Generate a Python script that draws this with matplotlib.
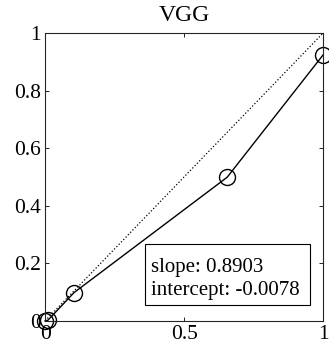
import matplotlib
matplotlib.use("Agg")
import matplotlib.pyplot as plt
from matplotlib.patches import Rectangle
import numpy as np

plt.rcParams['font.family'] = ['Liberation Serif', 'DejaVu Serif']

titolo = "VGG"
x_punti = [0.0, 0.01, 0.104, 0.655, 1.0]
y_punti = [0.0, 0.002, 0.098, 0.499, 0.924]
pendenza = 0.8903
intercetta = -0.0078
x_ticks = [0, 0.5, 1]
y_ticks = [0, 0.2, 0.4, 0.6, 0.8, 1]

fig = plt.figure(figsize=(3.29, 3.48), dpi=100)
ax = fig.add_axes([0.137, 0.078, 0.845, 0.827])

ax.plot([0, 1], [0, 1], linestyle=':', color='black', linewidth=0.9)
ax.plot(x_punti, y_punti, '-o', color='black', markerfacecolor='none',
        markersize=11.5, linewidth=1.0, markeredgewidth=1.0, clip_on=False)

ax.set_xlim(0, 1)
ax.set_ylim(0, 1)
ax.set_xticks(x_ticks)
ax.set_xticklabels(['0', '0.5', '1'])
ax.set_yticks(y_ticks)
ax.set_yticklabels(['0', '0.2', '0.4', '0.6', '0.8', '1'])
ax.tick_params(direction='in', top=True, right=True, labelsize=15.5, length=3,
               width=0.6, pad=3)
for s in ax.spines.values():
    s.set_linewidth(0.8)
    s.set_color('#262626')
ax.set_title(titolo, fontsize=17, pad=9)

# riquadro con i parametri del fit
ax.add_patch(Rectangle((0.36, 0.056), 0.593, 0.211, transform=ax.transAxes,
                       facecolor='white', edgecolor='black', linewidth=0.8,
                       zorder=5))
ax.text(0.381, 0.170, "slope: %.4f" % pendenza, transform=ax.transAxes,
        ha='left', va='baseline', fontsize=15, zorder=6)
ax.text(0.381, 0.090, "intercept: %.4f" % intercetta, transform=ax.transAxes,
        ha='left', va='baseline', fontsize=15, zorder=6)

fig.savefig("out.png", dpi=100)
